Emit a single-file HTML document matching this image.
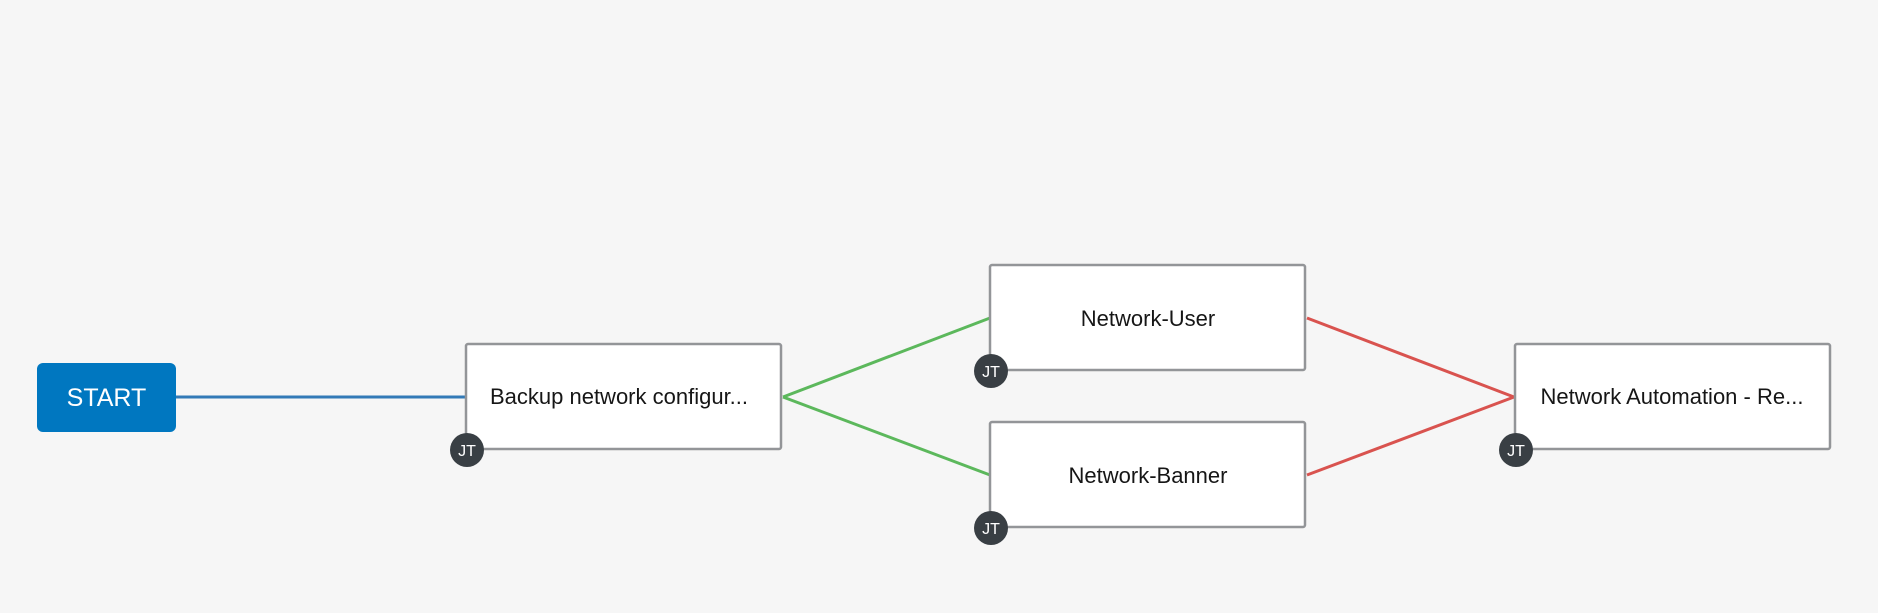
<!DOCTYPE html>
<html><head><style>
html,body{margin:0;padding:0;background:#f6f6f6;}
body{width:1878px;height:613px;overflow:hidden;position:relative;font-family:"Liberation Sans",sans-serif;}
svg{position:absolute;left:0;top:0;}
</style></head><body>
<svg width="1878" height="613" viewBox="0 0 1878 613">
<rect x="0" y="0" width="1878" height="613" fill="#f6f6f6"/>
<line x1="176" y1="397" x2="466" y2="397" stroke="#337ab7" stroke-width="3"/>
<line x1="783" y1="397" x2="990" y2="318" stroke="#5cb85c" stroke-width="3"/>
<line x1="783" y1="397" x2="990" y2="475" stroke="#5cb85c" stroke-width="3"/>
<line x1="1307" y1="318" x2="1514" y2="397" stroke="#d9534f" stroke-width="3"/>
<line x1="1307" y1="475" x2="1514" y2="397" stroke="#d9534f" stroke-width="3"/>
<rect x="37" y="363" width="139" height="69" rx="6" fill="#0077c0"/>
<text x="106.5" y="406" text-anchor="middle" font-size="25" fill="#fff" font-family="Liberation Sans, sans-serif">START</text>
<g fill="#fff" stroke="#939598" stroke-width="2.5">
<rect x="466" y="344" width="315" height="105" rx="2"/>
<rect x="990" y="265" width="315" height="105" rx="2"/>
<rect x="990" y="422" width="315" height="105" rx="2"/>
<rect x="1515" y="344" width="315" height="105" rx="2"/>
</g>
<g font-size="22" fill="#161616" text-anchor="middle" font-family="Liberation Sans, sans-serif">
<text x="619" y="404">Backup network configur...</text>
<text x="1148" y="326">Network-User</text>
<text x="1148" y="483">Network-Banner</text>
<text x="1672" y="404">Network Automation - Re...</text>
</g>
<g fill="#393f44">
<circle cx="467" cy="450" r="17"/>
<circle cx="991" cy="371" r="17"/>
<circle cx="991" cy="528" r="17"/>
<circle cx="1516" cy="450" r="17"/>
</g>
<g font-size="16" fill="#fff" text-anchor="middle" font-family="Liberation Sans, sans-serif">
<text x="467" y="456">JT</text>
<text x="991" y="377">JT</text>
<text x="991" y="534">JT</text>
<text x="1516" y="456">JT</text>
</g>
</svg>
</body></html>
